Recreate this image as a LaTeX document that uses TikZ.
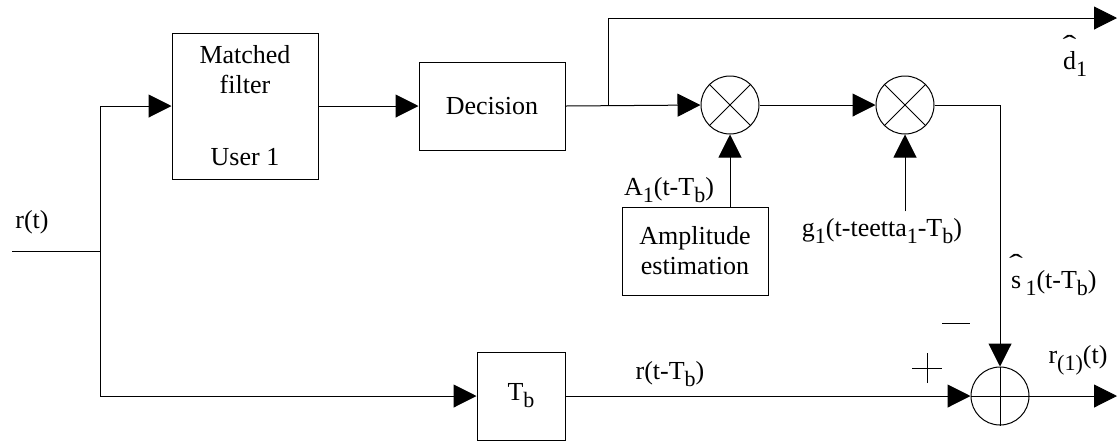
\documentclass[tikz,border=0pt]{standalone}
\usepackage{fontspec}
\setmainfont{Liberation Serif}
\usepackage{tikz}
\usetikzlibrary{positioning, arrows.meta, calc}

\newcommand{\hatted}[1]{\ooalign{#1\cr\hidewidth\raisebox{8pt}{\scalebox{1.6}[1]{\char"02C6}}\hidewidth\cr}}
\newcommand{\lowsub}[1]{\raisebox{-3.5pt}{\fontsize{11}{11}\selectfont #1}}

\begin{document}
\begin{tikzpicture}[x=0.5pt, y=-0.5pt,
        every node/.style={font=\fontsize{13}{15}\selectfont},
        block/.style={draw, rectangle, line width=0.5pt, align=center, inner sep=0pt},
        mixer/.style={draw, circle, line width=0.5pt, minimum size=29pt, inner sep=0pt},
        arrow/.style={-{Triangle[length=11.5pt, width=11.5pt]}, line width=0.5pt},
        wire/.style={line width=0.5pt}
    ]
    \useasboundingbox (0,0) rectangle (1119,441);

    % --- Blocks ---
    \node[block, minimum width=73pt, minimum height=73pt] (mf) at (245,106) {Matched\\filter\\[21pt]User 1};
    \node[block, minimum width=73pt, minimum height=44pt] (dec) at (492,106) {Decision};
    \node[block, minimum width=73pt, minimum height=44pt] (amp) at (695,251) {Amplitude\\estimation};
    \node[block, minimum width=44pt, minimum height=44pt] (tb) at (521,396) {T\lowsub{b}};

    % --- Multipliers and summer ---
    \node[mixer] (m1) at (730,105) {};
    \node[mixer] (m2) at (905,105) {};
    \node[mixer] (sum) at (1000,396) {};
    \draw[wire] (m1.north west) -- (m1.south east) (m1.north east) -- (m1.south west);
    \draw[wire] (m2.north west) -- (m2.south east) (m2.north east) -- (m2.south west);
    \draw[wire] (sum.north) -- (sum.south) (sum.west) -- (sum.east);

    % --- Free ends ---
    \coordinate (in) at (12,251);
    \coordinate (split) at (100,251);
    \coordinate (branch) at (608,105);
    \coordinate (dout) at (1117,18);
    \coordinate (rout) at (1117,396);

    % --- Labels ---
    \node (rt) at (32,222) {r(t)};
    \node[anchor=base west] (dhat) at (1056,69) {\hatted{d}\lowsub{1}};
    \node (alab) at (669,190) {A\lowsub{1}(t-T\lowsub{b})};
    \node (glab) at (882,231) {g\lowsub{1}(t-teetta\lowsub{1}-T\lowsub{b})};
    \node[anchor=base west] (shat) at (1004,288) {\hatted{s}\,\lowsub{1}(t-T\lowsub{b})};
    \node (rtb) at (670,374) {r(t-T\lowsub{b})};
    \node (rone) at (1078,360) {r\lowsub{(1)}(t)};

    % --- Signs at the summer ---
    \coordinate (minus) at (956,323);
    \coordinate (plus) at (927,368);
    \draw[wire] ([xshift=-7pt]minus) -- ([xshift=7pt]minus);
    \draw[wire] ([xshift=-7.5pt]plus) -- ([xshift=7.5pt]plus)
                ([yshift=-7.5pt]plus) -- ([yshift=7.5pt]plus);

    % --- Connectors ---
    \draw[wire] (in) -- (split);
    \draw[arrow] (split) |- (mf.west);
    \draw[arrow] (split) |- (tb.west);
    \draw[arrow] (mf.east) -- (dec.west);
    \draw[arrow] (dec.east) -- (m1.west);
    \draw[arrow] (branch) |- (dout);
    \draw[arrow] (m1 |- amp.north) -- (m1.south);
    \draw[arrow] (m1.east) -- (m2.west);
    \draw[arrow] (m2 |- glab.north) -- (m2.south);
    \draw[arrow] (m2.east) -| (sum.north);
    \draw[arrow] (tb.east) -- (sum.west);
    \draw[arrow] (sum.east) -- (rout);

\end{tikzpicture}
\end{document}
